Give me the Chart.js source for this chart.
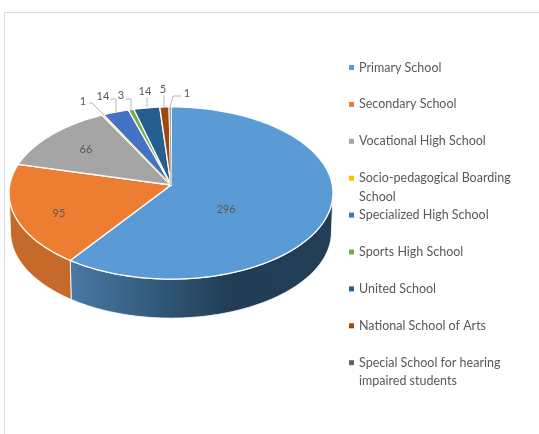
<!DOCTYPE html>
<html>
<head>
<meta charset="utf-8">
<title>Schools</title>
<script src="https://cdn.jsdelivr.net/npm/chart.js@4"></script>
<style>
    html, body { margin: 0; padding: 0; background: #fff; overflow: hidden; }
    #frame { position: absolute; left: 4px; top: 12px; width: 540px; height: 430px;
             border-left: 1px solid #dcdcdc; border-top: 1px solid #dcdcdc; }
    #wrap { position: absolute; left: 0; top: 0; width: 539px; height: 434px; }
</style>
</head>
<body>
<div id="frame"></div>
<div id="wrap"><canvas id="schoolsChart" width="539" height="434"></canvas></div>
<script>
// School types and number of schools
const categories = ['Primary School', 'Secondary School', 'Vocational High School',
    'Socio-pedagogical Boarding School', 'Specialized High School', 'Sports High School',
    'United School', 'National School of Arts', 'Special School for hearing impaired students'];
const schools = [296, 95, 66, 1, 14, 3, 14, 5, 1];
const colors = ['#5b9bd5', '#ed7d31', '#a5a5a5', '#ffc000', '#4472c4', '#70ad47', '#255e91', '#9e480e', '#636363'];

// Legend text, already broken into lines
const legendLines = [['Primary School'], ['Secondary School'], ['Vocational High School'],
    ['Socio-pedagogical Boarding', 'School'], ['Specialized High School'], ['Sports High School'],
    ['United School'], ['National School of Arts'], ['Special School for hearing', 'impaired students']];

// Where the value labels sit
const labelSpots = [[226, 209], [59, 213], [86, 149], [83, 101], [103, 96], [121, 95], [145, 91], [163, 89], [187, 93]];
// Leader lines of the small slices
const leaders = [
    [[89, 103], [92, 103], [104, 115]],
    [[110, 99], [116, 99], [116, 112]],
    [[126, 99], [131, 99], [131, 110]],
    [[147, 97], [147, 107]],
    [[164, 95], [164, 107]],
    [[181, 96], [173, 96], [170, 107]]
];

const FONT = 'Lato, sans-serif';
const TEXT_COLOR = '#595959';
const TILT = 0.527;     // vertical squash of the disc
const PERSP = 0.093;    // far side of the disc is a bit smaller
const DEPTH = 39;       // thickness of the disc
const THIN_SLICE = 0.03;

// angle is clockwise from the top, depth 0 is the top face
function project(arc, angle, depth) {
    const w = 1 + PERSP * Math.cos(angle);
    const r = arc.outerRadius;
    const narrow = 1 - depth * 0.00025;
    return {
        x: arc.x + 0.9955 * r * narrow * Math.sin(angle) / w,
        y: arc.y - TILT * r * Math.cos(angle) / w + depth
    };
}

function traceRim(ctx, arc, from, to, depth, first) {
    const steps = Math.max(2, Math.ceil(Math.abs(to - from) / 0.02));
    for (let i = 0; i <= steps; i++) {
        const p = project(arc, from + (to - from) * i / steps, depth);
        if (i === 0 && first) ctx.moveTo(p.x, p.y);
        else ctx.lineTo(p.x, p.y);
    }
}

// The front wall, only between the widest points of the disc
function drawWall(ctx, arc, index) {
    const rightEdge = Math.PI / 2 + Math.asin(PERSP);
    const leftEdge = 2 * Math.PI - rightEdge;
    const from = Math.max(arc.startAngle + Math.PI / 2, rightEdge);
    const to = Math.min(arc.endAngle + Math.PI / 2, leftEdge);
    if (from >= to) return;

    let fill = colors[index];
    if (index === 0) {
        fill = ctx.createLinearGradient(70, 0, 333, 0);
        fill.addColorStop(0, '#4a79a6');
        fill.addColorStop(0.37, '#2f5574');
        fill.addColorStop(0.62, '#213c54');
        fill.addColorStop(1, '#233f58');
    } else if (index === 1) {
        fill = '#c56a2b';
    }
    ctx.beginPath();
    traceRim(ctx, arc, from, to, 0, true);
    traceRim(ctx, arc, to, from, DEPTH, false);
    ctx.closePath();
    ctx.fillStyle = fill;
    ctx.fill();
    ctx.strokeStyle = 'rgba(255,255,255,0.8)';
    ctx.lineWidth = 1;
    ctx.stroke();
}

function drawSlice(ctx, arc, index) {
    ctx.beginPath();
    ctx.moveTo(arc.x, arc.y);
    traceRim(ctx, arc, arc.startAngle + Math.PI / 2, arc.endAngle + Math.PI / 2, 0, false);
    ctx.closePath();
    ctx.fillStyle = colors[index];
    ctx.fill();
    ctx.strokeStyle = '#fff';
    ctx.lineWidth = 1.3;
    ctx.lineJoin = 'round';
    ctx.stroke();
}

// One-school slices would vanish under the white borders, so give them a hairline
function drawThinSlice(ctx, arc, index) {
    if (arc.endAngle - arc.startAngle > THIN_SLICE) return;
    const tip = project(arc, (arc.startAngle + arc.endAngle) / 2 + Math.PI / 2, 0);
    ctx.beginPath();
    ctx.moveTo(arc.x, arc.y);
    ctx.lineTo(tip.x, tip.y);
    ctx.strokeStyle = colors[index];
    ctx.globalAlpha = 0.6;
    ctx.lineWidth = 1;
    ctx.stroke();
    ctx.globalAlpha = 1;
}

function drawLeaders(ctx) {
    ctx.strokeStyle = '#a6a6a6';
    ctx.lineWidth = 0.8;
    leaders.forEach(function(line) {
        ctx.beginPath();
        line.forEach(function(p, i) {
            if (i === 0) ctx.moveTo(p[0], p[1]);
            else ctx.lineTo(p[0], p[1]);
        });
        ctx.stroke();
    });
}

function drawValues(ctx) {
    ctx.font = '11px ' + FONT;
    ctx.fillStyle = TEXT_COLOR;
    ctx.textAlign = 'center';
    ctx.textBaseline = 'middle';
    schools.forEach(function(value, i) {
        ctx.fillText(String(value), labelSpots[i][0], labelSpots[i][1]);
    });
}

function drawLegend(ctx) {
    ctx.font = '12.5px ' + FONT;
    ctx.textAlign = 'left';
    ctx.textBaseline = 'middle';
    legendLines.forEach(function(lines, i) {
        const y = 67.5 + i * 36.9;
        ctx.fillStyle = colors[i];
        ctx.fillRect(349, y - 2.5, 5, 5);
        ctx.fillStyle = TEXT_COLOR;
        lines.forEach(function(text, n) {
            ctx.fillText(text, 359, y + n * 18.5);
        });
    });
}

// Chart.js works out the slice angles and radius, the tilted disc is painted from them
const tiltedPie = {
    id: 'tiltedPie',
    beforeDatasetsDraw: function() {
        return false;
    },
    afterDraw: function(chart) {
        const ctx = chart.ctx;
        const arcs = chart.getDatasetMeta(0).data;
        ctx.save();
        arcs.forEach(function(arc, i) { drawWall(ctx, arc, i); });
        arcs.forEach(function(arc, i) { drawSlice(ctx, arc, i); });
        arcs.forEach(function(arc, i) { drawThinSlice(ctx, arc, i); });
        drawLeaders(ctx);
        drawValues(ctx);
        drawLegend(ctx);
        ctx.restore();
    }
};

const ctx = document.getElementById('schoolsChart').getContext('2d');
new Chart(ctx, {
    type: 'pie',
    data: {
        labels: categories,
        datasets: [{
            data: schools,
            backgroundColor: colors,
            borderWidth: 0
        }]
    },
    options: {
        responsive: false,
        animation: false,
        layout: { padding: { left: 9, right: 206, top: 23, bottom: 87 } },
        plugins: {
            legend: { display: false },
            tooltip: { enabled: false }
        }
    },
    plugins: [tiltedPie]
});
</script>
</body>
</html>
